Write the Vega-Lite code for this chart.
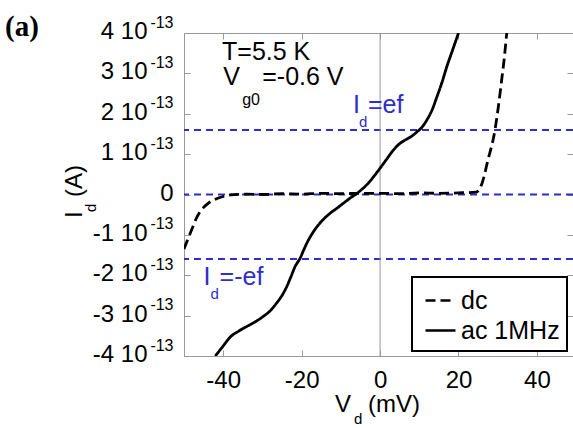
{
  "$schema": "https://vega.github.io/schema/vega-lite/v6.json",
  "width": 389,
  "height": 323,
  "autosize": "none",
  "padding": {"left": 184, "top": 33, "right": 0, "bottom": 72},
  "background": "white",
  "data": {"values": [{}]},
  "datasets": {
    "levels": [{"Id": 1.6e-13}, {"Id": 0}, {"Id": -1.6e-13}],
    "curves": [
      {"series": "ac 1MHz", "Vd": -42.0, "Id": -4.00e-13},
      {"series": "ac 1MHz", "Vd": -40.0, "Id": -3.75e-13},
      {"series": "ac 1MHz", "Vd": -38.3, "Id": -3.54e-13},
      {"series": "ac 1MHz", "Vd": -36.0, "Id": -3.38e-13},
      {"series": "ac 1MHz", "Vd": -34.0, "Id": -3.27e-13},
      {"series": "ac 1MHz", "Vd": -31.8, "Id": -3.15e-13},
      {"series": "ac 1MHz", "Vd": -29.8, "Id": -3.02e-13},
      {"series": "ac 1MHz", "Vd": -28.0, "Id": -2.88e-13},
      {"series": "ac 1MHz", "Vd": -26.4, "Id": -2.69e-13},
      {"series": "ac 1MHz", "Vd": -25.0, "Id": -2.50e-13},
      {"series": "ac 1MHz", "Vd": -23.8, "Id": -2.28e-13},
      {"series": "ac 1MHz", "Vd": -22.7, "Id": -2.03e-13},
      {"series": "ac 1MHz", "Vd": -21.7, "Id": -1.79e-13},
      {"series": "ac 1MHz", "Vd": -20.4, "Id": -1.58e-13},
      {"series": "ac 1MHz", "Vd": -19.5, "Id": -1.38e-13},
      {"series": "ac 1MHz", "Vd": -18.7, "Id": -1.21e-13},
      {"series": "ac 1MHz", "Vd": -17.5, "Id": -1.00e-13},
      {"series": "ac 1MHz", "Vd": -16.1, "Id": -0.80e-13},
      {"series": "ac 1MHz", "Vd": -14.5, "Id": -0.62e-13},
      {"series": "ac 1MHz", "Vd": -12.8, "Id": -0.47e-13},
      {"series": "ac 1MHz", "Vd": -11.0, "Id": -0.34e-13},
      {"series": "ac 1MHz", "Vd": -9.4, "Id": -0.22e-13},
      {"series": "ac 1MHz", "Vd": -7.5, "Id": -0.08e-13},
      {"series": "ac 1MHz", "Vd": -6.0, "Id": 0.02e-13},
      {"series": "ac 1MHz", "Vd": -4.5, "Id": 0.14e-13},
      {"series": "ac 1MHz", "Vd": -3.0, "Id": 0.28e-13},
      {"series": "ac 1MHz", "Vd": -1.5, "Id": 0.46e-13},
      {"series": "ac 1MHz", "Vd": 0.0, "Id": 0.65e-13},
      {"series": "ac 1MHz", "Vd": 1.5, "Id": 0.85e-13},
      {"series": "ac 1MHz", "Vd": 3.4, "Id": 1.10e-13},
      {"series": "ac 1MHz", "Vd": 5.0, "Id": 1.26e-13},
      {"series": "ac 1MHz", "Vd": 6.4, "Id": 1.35e-13},
      {"series": "ac 1MHz", "Vd": 8.0, "Id": 1.44e-13},
      {"series": "ac 1MHz", "Vd": 9.4, "Id": 1.55e-13},
      {"series": "ac 1MHz", "Vd": 10.8, "Id": 1.68e-13},
      {"series": "ac 1MHz", "Vd": 11.9, "Id": 1.84e-13},
      {"series": "ac 1MHz", "Vd": 13.2, "Id": 2.08e-13},
      {"series": "ac 1MHz", "Vd": 14.5, "Id": 2.42e-13},
      {"series": "ac 1MHz", "Vd": 15.8, "Id": 2.78e-13},
      {"series": "ac 1MHz", "Vd": 17.0, "Id": 3.16e-13},
      {"series": "ac 1MHz", "Vd": 18.5, "Id": 3.58e-13},
      {"series": "ac 1MHz", "Vd": 20.0, "Id": 4.00e-13},
      {"series": "dc", "Vd": -50.0, "Id": -1.35e-13},
      {"series": "dc", "Vd": -49.0, "Id": -1.10e-13},
      {"series": "dc", "Vd": -48.0, "Id": -0.86e-13},
      {"series": "dc", "Vd": -47.0, "Id": -0.62e-13},
      {"series": "dc", "Vd": -46.0, "Id": -0.44e-13},
      {"series": "dc", "Vd": -45.0, "Id": -0.32e-13},
      {"series": "dc", "Vd": -44.0, "Id": -0.23e-13},
      {"series": "dc", "Vd": -42.0, "Id": -0.12e-13},
      {"series": "dc", "Vd": -40.0, "Id": -0.05e-13},
      {"series": "dc", "Vd": -38.0, "Id": -0.01e-13},
      {"series": "dc", "Vd": -34.0, "Id": 0.01e-13},
      {"series": "dc", "Vd": -30.0, "Id": 0.0},
      {"series": "dc", "Vd": -25.0, "Id": 0.02e-13},
      {"series": "dc", "Vd": -20.0, "Id": 0.01e-13},
      {"series": "dc", "Vd": -15.0, "Id": 0.03e-13},
      {"series": "dc", "Vd": -10.0, "Id": 0.02e-13},
      {"series": "dc", "Vd": -5.0, "Id": 0.03e-13},
      {"series": "dc", "Vd": 0.0, "Id": 0.03e-13},
      {"series": "dc", "Vd": 5.0, "Id": 0.02e-13},
      {"series": "dc", "Vd": 10.0, "Id": 0.04e-13},
      {"series": "dc", "Vd": 15.0, "Id": 0.03e-13},
      {"series": "dc", "Vd": 20.0, "Id": 0.04e-13},
      {"series": "dc", "Vd": 24.5, "Id": 0.06e-13},
      {"series": "dc", "Vd": 25.9, "Id": 0.25e-13},
      {"series": "dc", "Vd": 27.5, "Id": 0.85e-13},
      {"series": "dc", "Vd": 29.3, "Id": 1.60e-13},
      {"series": "dc", "Vd": 30.2, "Id": 2.20e-13},
      {"series": "dc", "Vd": 31.0, "Id": 2.83e-13},
      {"series": "dc", "Vd": 31.7, "Id": 3.40e-13},
      {"series": "dc", "Vd": 32.3, "Id": 4.00e-13}
    ]
  },
  "layer": [
    {
      "data": {"name": "levels"},
      "mark": {"type": "rule", "color": "#2e2ec8", "strokeWidth": 2, "strokeDash": [7, 5]},
      "encoding": {
        "y": {
          "field": "Id", "type": "quantitative",
          "scale": {"domain": [-4e-13, 4e-13], "nice": false, "zero": false},
          "axis": {
            "orient": "left", "title": null,
            "values": [-4e-13, -3e-13, -2e-13, -1e-13, 0, 1e-13, 2e-13, 3e-13, 4e-13],
            "labelExpr": "datum.value == 0 ? '' : round(datum.value * 1e13) + ' 10'",
            "labelFontSize": 24, "labelAlign": "right", "labelBaseline": "alphabetic",
            "labelOffset": 5.5, "tickSize": -6, "labelPadding": 43, "domain": true
          }
        }
      }
    },
    {
      "mark": {"type": "rule", "color": "#999999", "strokeWidth": 1},
      "encoding": {
        "x": {
          "datum": 0, "type": "quantitative",
          "scale": {"domain": [-50, 49.2], "nice": false, "zero": false},
          "axis": {
            "orient": "top", "title": null, "values": [-40, -20, 0, 20, 40],
            "labels": false, "tickSize": -6, "domain": true
          }
        }
      }
    },
    {
      "data": {"name": "curves"},
      "mark": {"type": "line", "color": "black", "strokeWidth": 2.8, "clip": true, "interpolate": "monotone"},
      "encoding": {
        "x": {
          "field": "Vd", "type": "quantitative",
          "scale": {"domain": [-50, 49.2], "nice": false, "zero": false},
          "axis": {
            "orient": "bottom", "title": null, "values": [-40, -20, 0, 20, 40],
            "labelExpr": "'' + datum.value", "labelFontSize": 24,
            "labelBaseline": "alphabetic", "tickSize": -6, "labelPadding": 37, "domain": true
          }
        },
        "y": {
          "field": "Id", "type": "quantitative",
          "scale": {"domain": [-4e-13, 4e-13], "nice": false, "zero": false},
          "axis": {
            "orient": "left", "title": null,
            "values": [-4e-13, -3e-13, -2e-13, -1e-13, 0, 1e-13, 2e-13, 3e-13, 4e-13],
            "labelExpr": "datum.value == 0 ? '0' : '-13'",
            "labelFontSize": {"condition": {"test": "datum.value == 0", "value": 24}, "value": 16},
            "labelOffset": {"condition": {"test": "datum.value == 0", "value": 5.5}, "value": -6},
            "labelAlign": "right", "labelBaseline": "alphabetic",
            "ticks": false, "labelPadding": 11, "domain": false
          }
        },
        "strokeDash": {
          "field": "series", "type": "nominal",
          "scale": {"domain": ["dc", "ac 1MHz"], "range": [[10, 5], [1, 0]]},
          "legend": {
            "title": null, "orient": "none", "legendX": 228, "legendY": 244,
            "symbolType": "stroke", "symbolSize": 900, "symbolStrokeWidth": 2.5,
            "symbolStrokeColor": "black", "symbolOffset": 5, "labelFontSize": 25, "labelFont": "Liberation Sans",
            "labelColor": "black", "labelOffset": 4, "padding": 7, "rowPadding": 0,
            "strokeColor": "black", "fillColor": "white",
            "encode": {
              "legend": {"update": {"strokeWidth": {"value": 2}}}
            }
          }
        }
      }
    },
    {
      "mark": {"type": "text", "text": "T=5.5 K"},
      "encoding": {
        "x": {"datum": -40.3, "type": "quantitative", "axis": null},
        "y": {
          "datum": 3.33e-13, "type": "quantitative",
          "axis": {
            "orient": "right", "title": null,
            "values": [-4e-13, -3e-13, -2e-13, -1e-13, 0, 1e-13, 2e-13, 3e-13, 4e-13],
            "labels": false, "tickSize": -6, "domain": false
          }
        }
      }
    },
    {
      "mark": {"type": "text", "text": "V"},
      "encoding": {"x": {"datum": -40.0, "type": "quantitative", "axis": null}, "y": {"datum": 2.71e-13, "type": "quantitative", "axis": null}}
    },
    {
      "mark": {"type": "text", "text": "g0", "fontSize": 16, "dx": 19, "dy": 20},
      "encoding": {"x": {"datum": -40.0, "type": "quantitative", "axis": null}, "y": {"datum": 2.71e-13, "type": "quantitative", "axis": null}}
    },
    {
      "mark": {"type": "text", "text": "=-0.6 V", "dx": 39},
      "encoding": {"x": {"datum": -40.0, "type": "quantitative", "axis": null}, "y": {"datum": 2.71e-13, "type": "quantitative", "axis": null}}
    },
    {
      "mark": {"type": "text", "text": "I", "color": "#2e2ec8"},
      "encoding": {"x": {"datum": -6.9, "type": "quantitative", "axis": null}, "y": {"datum": 2.02e-13, "type": "quantitative", "axis": null}}
    },
    {
      "mark": {"type": "text", "text": "d", "color": "#2e2ec8", "fontSize": 15, "dx": 6, "dy": 14},
      "encoding": {"x": {"datum": -6.9, "type": "quantitative", "axis": null}, "y": {"datum": 2.02e-13, "type": "quantitative", "axis": null}}
    },
    {
      "mark": {"type": "text", "text": "=ef", "color": "#2e2ec8", "dx": 15},
      "encoding": {"x": {"datum": -6.9, "type": "quantitative", "axis": null}, "y": {"datum": 2.02e-13, "type": "quantitative", "axis": null}}
    },
    {
      "mark": {"type": "text", "text": "I", "color": "#2e2ec8"},
      "encoding": {"x": {"datum": -45.0, "type": "quantitative", "axis": null}, "y": {"datum": -2.24e-13, "type": "quantitative", "axis": null}}
    },
    {
      "mark": {"type": "text", "text": "d", "color": "#2e2ec8", "fontSize": 15, "dx": 7, "dy": 14},
      "encoding": {"x": {"datum": -45.0, "type": "quantitative", "axis": null}, "y": {"datum": -2.24e-13, "type": "quantitative", "axis": null}}
    },
    {
      "mark": {"type": "text", "text": "=-ef", "color": "#2e2ec8", "dx": 16},
      "encoding": {"x": {"datum": -45.0, "type": "quantitative", "axis": null}, "y": {"datum": -2.24e-13, "type": "quantitative", "axis": null}}
    },
    {
      "mark": {"type": "text", "text": "V", "fontSize": 24, "dy": 56},
      "encoding": {"x": {"datum": -11.5, "type": "quantitative", "axis": null}, "y": {"datum": -4e-13, "type": "quantitative", "axis": null}}
    },
    {
      "mark": {"type": "text", "text": "d", "fontSize": 15, "dx": 19, "dy": 68},
      "encoding": {"x": {"datum": -11.5, "type": "quantitative", "axis": null}, "y": {"datum": -4e-13, "type": "quantitative", "axis": null}}
    },
    {
      "mark": {"type": "text", "text": "(mV)", "fontSize": 24, "dx": 33, "dy": 56},
      "encoding": {"x": {"datum": -11.5, "type": "quantitative", "axis": null}, "y": {"datum": -4e-13, "type": "quantitative", "axis": null}}
    },
    {
      "mark": {"type": "text", "text": "I", "fontSize": 24, "angle": 270, "dx": -23.5, "dy": -102},
      "encoding": {"x": {"datum": -50, "type": "quantitative", "axis": null}, "y": {"datum": 0, "type": "quantitative", "axis": null}}
    },
    {
      "mark": {"type": "text", "text": "d", "fontSize": 15, "angle": 270, "dx": -17.5, "dy": -88},
      "encoding": {"x": {"datum": -50, "type": "quantitative", "axis": null}, "y": {"datum": 0, "type": "quantitative", "axis": null}}
    },
    {
      "mark": {"type": "text", "text": "(A)", "fontSize": 24, "angle": 270, "dx": -2.5, "dy": -102},
      "encoding": {"x": {"datum": -50, "type": "quantitative", "axis": null}, "y": {"datum": 0, "type": "quantitative", "axis": null}}
    },
    {
      "mark": {"type": "text", "text": "(a)", "font": "Liberation Serif", "fontWeight": "bold", "fontSize": 29, "dx": -179, "dy": 3},
      "encoding": {"x": {"datum": -50, "type": "quantitative", "axis": null}, "y": {"datum": 4e-13, "type": "quantitative", "axis": null}}
    }
  ],
  "resolve": {"axis": {"x": "independent", "y": "independent"}},
  "config": {
    "view": {"stroke": null},
    "axis": {
      "grid": false, "domainColor": "#999999", "tickColor": "#999999", "domainWidth": 1,
      "labelColor": "black", "labelFont": "Liberation Sans", "labelFlush": false,
      "labelOverlap": false, "labelBound": false
    },
    "text": {"font": "Liberation Sans", "fontSize": 25, "align": "left", "baseline": "alphabetic", "color": "black"}
  }
}
